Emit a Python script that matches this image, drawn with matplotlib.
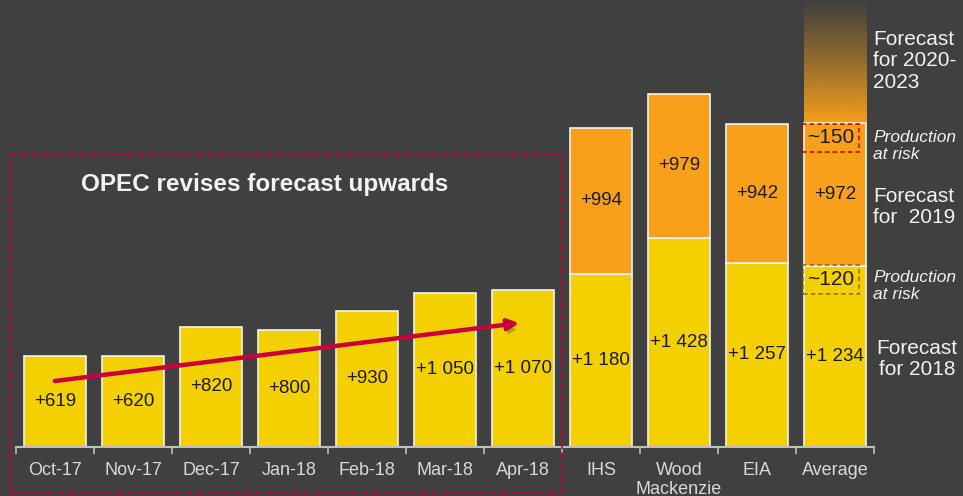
import numpy as np
import matplotlib
matplotlib.use("Agg")
import matplotlib.pyplot as plt
from matplotlib.patches import Rectangle
import matplotlib.patheffects as pe

plt.rcParams['font.family'] = ['Liberation Sans', 'DejaVu Sans']

# ---- data ----
categories = ["Oct-17", "Nov-17", "Dec-17", "Jan-18", "Feb-18", "Mar-18", "Apr-18",
              "IHS", "Wood\nMackenzie", "EIA", "Average"]
forecast_2018 = [619, 620, 820, 800, 930, 1050, 1070, 1180, 1428, 1257, 1234]
forecast_2019 = [994, 979, 942, 972]          # for IHS, Wood Mackenzie, EIA, Average
risk_2019 = 150
risk_2018 = 120
gradient_extra = 840                          # visual extent of 2020-2023 fade

BG = "#404040"
YELLOW = "#F5D000"
ORANGE = "#F8A01A"
EDGE = "#F2F2F2"
RED = "#C8003C"
TXT = "#F2F2F2"

def fmt(v):
    return "+" + f"{v:,}".replace(",", " ")

W, H = 963, 496
fig = plt.figure(figsize=(W / 100, H / 100), dpi=100, facecolor=BG)
ax = fig.add_axes([16 / W, 49 / H, 858 / W, 447 / H])
ax.set_facecolor(BG)
ymax = 447 / 0.1467

x = np.arange(len(categories))
n_src = len(forecast_2019)
xs = x[-n_src:]
y18_src = np.array(forecast_2018[-n_src:])

ax.bar(x, forecast_2018, width=0.8, color=YELLOW, edgecolor=EDGE, linewidth=1.2, zorder=3)
ax.bar(xs, forecast_2019, bottom=y18_src, width=0.8, color=ORANGE, edgecolor=EDGE,
       linewidth=1.2, zorder=3)

# gradient above the average bar (forecast 2020-2023)
avg_top = forecast_2018[-1] + forecast_2019[-1]
grad = np.zeros((256, 1, 4))
rgb = matplotlib.colors.to_rgb(ORANGE)
grad[..., 0], grad[..., 1], grad[..., 2] = rgb
grad[:, 0, 3] = np.linspace(1, 0, 256) ** 1.1
ax.imshow(grad, extent=[x[-1] - 0.4, x[-1] + 0.4, avg_top, avg_top + gradient_extra],
          origin="lower", aspect="auto", zorder=2, interpolation="bilinear")
ax.set_xlim(-0.5, len(categories) - 0.5)
ax.set_ylim(0, ymax)

# value labels
for xi, v in zip(x, forecast_2018):
    ax.text(xi, v / 2, fmt(v), ha="center", va="center", fontsize=13.5, color="#1A1A1A", zorder=5)
for xi, b, v in zip(xs, y18_src, forecast_2019):
    ax.text(xi, b + v / 2, fmt(v), ha="center", va="center", fontsize=13.5, color="#1A1A1A", zorder=5)

# production at risk boxes
ax.text(x[-1] - 0.06, avg_top - risk_2019 * 0.66, f"~{risk_2019}", ha="center", va="center",
        fontsize=15, color="#1A1A1A", zorder=6,
        bbox=dict(boxstyle="square,pad=0.22", fc="none", ec="#C00000", ls=(0, (3, 2)), lw=1.1))
ax.text(x[-1] - 0.05, forecast_2018[-1] - risk_2018 * 0.77, f"~{risk_2018}", ha="center", va="center",
        fontsize=15, color="#1A1A1A", zorder=6,
        bbox=dict(boxstyle="square,pad=0.22", fc="none", ec="#8A6A00", ls=(0, (3, 2)), lw=1.1))

# arrow
ann = ax.annotate("", xy=(5.95, 845), xytext=(0, 450),
                  arrowprops=dict(arrowstyle="-|>", color=RED, lw=3.2, mutation_scale=16,
                                  shrinkA=0, shrinkB=0), zorder=6)
ann.arrow_patch.set_path_effects([pe.SimplePatchShadow(offset=(1.5, -4), shadow_rgbFace="black", alpha=0.25),
                                  pe.Normal()])

# axes styling
for s in ["top", "left", "right"]:
    ax.spines[s].set_visible(False)
ax.spines["bottom"].set_color("#BFBFBF")
ax.spines["bottom"].set_linewidth(1.5)
ax.spines["bottom"].set_zorder(4)
ax.set_yticks([])
ax.set_xticks(x)
ax.set_xticklabels(categories, fontsize=13, color="#D9D9D9", linespacing=1.1)
ax.tick_params(axis="x", which="major", length=0, pad=11)
ax.set_xticks(np.arange(-0.5, len(categories), 1), minor=True)
ax.tick_params(axis="x", which="minor", length=5, width=1.2, color="#BFBFBF")

# dashed frame around OPEC bars
def fx(px):
    return px / W
def fy(py):
    return 1 - py / H

fig.add_artist(Rectangle((fx(10), fy(492)), (562 - 10) / W, (492 - 155) / H,
                         transform=fig.transFigure, fill=False, ec=RED, lw=1.2,
                         ls=(0, (5, 2))))
fig.text(fx(265), fy(184), "OPEC revises forecast upwards", ha="center", va="center",
         fontsize=17.5, fontweight="bold", color=TXT)

# right-hand annotations
fig.text(fx(873), fy(61), "Forecast\nfor 2020-\n2023", ha="left", va="center",
         fontsize=15, color=TXT, linespacing=1.15)
fig.text(fx(873), fy(146), "Production\nat risk", ha="left", va="center",
         fontsize=12.5, color=TXT, style="italic", linespacing=1.2)
fig.text(fx(873), fy(207), "Forecast\nfor  2019", ha="left", va="center",
         fontsize=15, color=TXT, linespacing=1.15)
fig.text(fx(873), fy(286), "Production\nat risk", ha="left", va="center",
         fontsize=12.5, color=TXT, style="italic", linespacing=1.2)
fig.text(fx(917), fy(359), "Forecast\nfor 2018", ha="center", va="center",
         fontsize=15, color=TXT, linespacing=1.15)

fig.savefig("out.png", dpi=100, facecolor=BG)
